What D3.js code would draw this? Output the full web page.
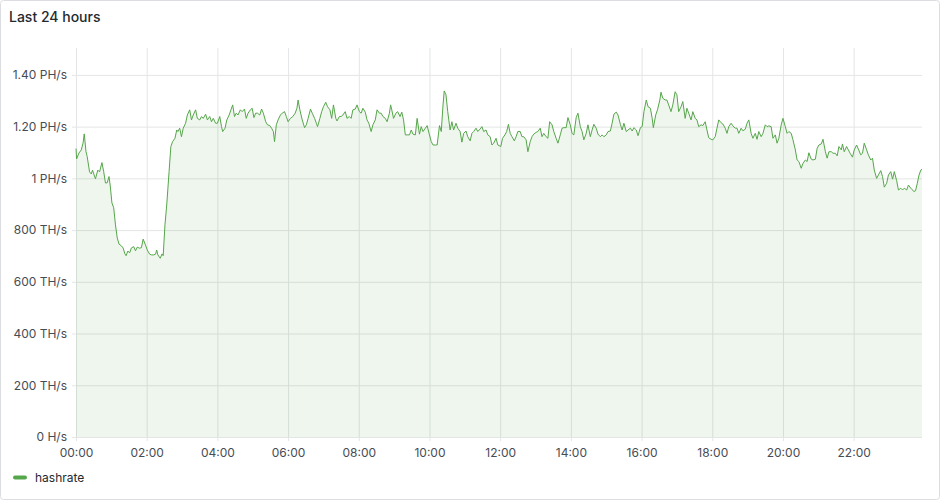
<!DOCTYPE html>
<html><head><meta charset="utf-8">
<script src="https://cdn.jsdelivr.net/npm/d3@7"></script>
<style>
html,body{margin:0;padding:0;background:#fff;}
svg{display:block;font-family:Inter,"Open Sans",sans-serif;}
</style></head><body>
<svg id="chart" width="940" height="500"></svg>
<script>
const title = "Last 24 hours";
const seriesName = "hashrate";
const xTickMinutes = [0,120,240,360,480,600,720,840,960,1080,1200,1320];
const xTickLabels = ["00:00","02:00","04:00","06:00","08:00","10:00","12:00","14:00","16:00","18:00","20:00","22:00"];
const yTicksTH = [0,200,400,600,800,1000,1200,1400];
const yTickLabels = ["0 H/s","200 TH/s","400 TH/s","600 TH/s","800 TH/s","1 PH/s","1.20 PH/s","1.40 PH/s"];
const xDomainMinutes = [0,1436];
const yDomainTH = [0,1504];

// minutes since 00:00
const minutes = [
0,1,5,9,12,14,17,19,23,26,
28,33,37,40,44,47,50,53,56,58,
61,64,67,70,73,77,80,83,85,88,
91,94,98,101,104,108,111,114,118,121,
125,128,132,135,137,139,143,146,148,151,
154,158,161,164,168,171,173,176,179,182,
186,189,193,196,199,203,206,210,213,216,
220,223,227,230,233,237,240,244,247,249,
253,256,260,263,266,269,272,275,279,282,
286,289,292,296,299,302,305,308,312,315,
318,322,325,329,332,335,337,340,343,347,
350,354,
357,360,364,368,372,375,377,380,384,388,
391,394,398,401,405,408,410,414,417,420,
424,427,431,434,437,441,443,447,450,453,
457,460,464,467,470,474,477,481,484,487,
491,494,497,501,504,508,511,515,518,521,
525,528,532,534,536,539,543,546,550,553,
556,559,562,566,569,572,576,579,583,586,
589,593,596,600,603,606,610,613,617,620,
623,625,628,631,635,638,641,645,648,652,
655,658,662,665,669,672,675,679,682,686,
689,692,696,699,703,706,709,713,716,
721,724,728,731,734,737,740,744,747,750,
754,757,760,764,767,771,774,777,781,784,
788,791,794,798,801,804,808,811,815,818,
822,825,828,832,835,839,842,845,849,852,
856,859,862,866,869,873,876,879,883,886,
890,893,896,900,903,907,910,913,917,920,
924,927,930,934,937,941,944,947,951,954,
958,961,964,968,971,975,978,980,984,987,
991,993,996,1000,1003,1006,1010,1013,1017,1020,
1023,1027,1030,1034,1037,1040,1044,1047,1051,1054,
1057,1061,1064,1068,1071,1074,
1078,1081,1085,1088,1091,1095,1098,1102,1105,1108,
1112,1115,1119,1122,1125,1129,1132,1136,1139,1142,
1146,1149,1153,1156,1159,1163,1166,1170,1173,1176,
1180,1183,1187,1190,1193,1197,1200,1204,1207,1210,
1214,1217,1221,1224,1227,1231,1234,1238,1241,1244,
1248,1251,1255,1258,1261,1265,1268,1272,1275,1278,
1282,1285,1289,1292,1295,1299,1301,1304,1308,1311,
1314,1318,1321,1325,1328,1332,1335,1338,1342,1345,
1349,1352,1355,1359,1362,1366,1369,1372,1376,1379,
1383,1386,1389,1393,1396,1400,1403,1406,1410,1413,
1417,1420,1422,1425,1428,1431,1434,1436
];
// hashrate in TH/s
const hashrateTH = [
1115,1075,1098,1110,1137,1172,1103,1084,1025,1017,
1032,998,1032,1025,1061,1026,982,983,1007,974,
905,886,820,770,746,739,731,708,701,719,
712,731,736,720,734,730,732,765,742,723,
707,704,704,707,723,704,691,708,701,820,
897,1026,1123,1142,1155,1187,1181,1194,1161,1194,
1213,1245,1265,1226,1245,1265,1232,1226,1239,1232,
1248,1226,1239,1219,1232,1213,1213,1239,1200,1181,
1194,1226,1245,1265,1284,1239,1252,1245,1265,1258,
1268,1232,1252,1265,1271,1235,1252,1252,1245,1268,
1252,1219,1207,1204,1194,1181,1142,1207,1226,1245,
1252,1258,
1239,1219,1232,1239,1252,1271,1303,1265,1226,1196,
1207,1232,1268,1252,1232,1213,1200,1232,1258,1277,
1294,1277,1265,1232,1284,1232,1222,1239,1239,1245,
1258,1232,1239,1232,1265,1268,1284,1258,1252,1271,
1256,1226,1213,1181,1207,1226,1265,1252,1252,1239,
1232,1219,1252,1284,1265,1232,1252,1258,1239,1256,
1226,1168,1168,1168,1187,1171,1168,1232,1171,1200,
1181,1194,1204,1168,1142,1129,1129,1129,1204,1181,
1284,1338,1323,1258,1187,1219,1187,1213,1194,1181,
1140,1174,1183,1161,1145,1174,1181,1194,1181,1191,
1200,1181,1187,1168,1161,1129,1136,1155,1129,
1123,1155,1168,1181,1209,1174,1161,1145,1161,1181,
1181,1161,1161,1149,1103,1142,1161,1171,1178,1181,
1194,1161,1174,1161,1155,1219,1207,1181,1155,1136,
1168,1194,1196,1196,1235,1207,1174,1168,1235,1252,
1200,1181,1149,1174,1207,1161,1187,1209,1194,1171,
1161,1168,1161,1168,1181,1183,1213,1248,1256,1245,
1209,1187,1213,1181,1187,1194,1183,1196,1187,1165,
1196,1200,1258,1303,1277,1271,1232,1196,1245,1265,
1303,1333,1310,1303,1303,1284,1258,1284,1335,1323,
1258,1277,1297,1232,1271,1252,1226,1258,1232,1226,
1200,1207,1204,1219,1187,1157,
1151,1149,1161,1194,1226,1215,1210,1194,1174,1200,
1213,1203,1194,1194,1174,1194,1184,1190,1213,1226,
1174,1155,1174,1151,1181,1161,1174,1207,1200,1203,
1200,1155,1168,1136,1155,1207,1232,1200,1174,1181,
1174,1149,1110,1071,1065,1039,1058,1071,1065,1099,
1074,1071,1074,1116,1129,1133,1151,1103,1078,1103,
1103,1097,1097,1087,1123,1110,1133,1103,1123,1110,
1097,1082,1110,1129,1113,1091,1097,1136,1110,1091,
1071,1078,1032,1000,1013,1030,1007,966,981,1013,
1026,997,1026,991,955,962,955,962,955,974,
962,955,949,952,981,1013,1032,1035
];

const W = 940, H = 500;
const plot = {left: 76, right: 922, top: 48, bottom: 437};
const lineColor = "#56a64b";
const gridColor = "#e4e5e6";
const textColor = "#464c54";

const n = Math.min(minutes.length, hashrateTH.length);
const data = d3.range(n).map(i => ({t: minutes[i], v: hashrateTH[i]}));

const svg = d3.select("#chart");
svg.append("rect").attr("x",0.5).attr("y",0.5).attr("width",W-1).attr("height",H-1)
  .attr("rx",3).attr("fill","#fff").attr("stroke","#dcdde0");

svg.append("text").attr("x",9).attr("y",22).text(title)
  .attr("font-size",14).attr("font-weight",500).attr("fill","#24292e");

const x = d3.scaleLinear().domain(xDomainMinutes).range([plot.left, plot.right]);
const y = d3.scaleLinear().domain(yDomainTH).range([plot.bottom, plot.top]);

// grid
const gy = svg.append("g").attr("transform",`translate(${plot.left},0)`)
  .call(d3.axisLeft(y).tickValues(yTicksTH).tickSize(-(plot.right-plot.left)).tickFormat(""));
gy.select(".domain").remove();
gy.selectAll("line").attr("stroke",gridColor);
const gx = svg.append("g").attr("transform",`translate(0,${plot.bottom})`)
  .call(d3.axisBottom(x).tickValues(xTickMinutes).tickSize(-(plot.bottom-plot.top)).tickFormat(""));
gx.select(".domain").remove();
gx.selectAll("line").attr("stroke",gridColor);

// area + line
svg.append("path").datum(data)
  .attr("d", d3.area().x(d=>x(d.t)).y0(y(0)).y1(d=>y(d.v)))
  .attr("fill", lineColor).attr("fill-opacity", 0.1);
svg.append("path").datum(data)
  .attr("d", d3.line().x(d=>x(d.t)).y(d=>y(d.v)))
  .attr("fill","none").attr("stroke",lineColor).attr("stroke-width",1)
  .attr("stroke-linejoin","round");

// axes with labels
const ay = svg.append("g").attr("transform",`translate(${plot.left},0)`)
  .call(d3.axisLeft(y).tickValues(yTicksTH).tickSize(4).tickPadding(5)
    .tickFormat((d,i)=>yTickLabels[i]));
ay.select(".domain").remove();
ay.selectAll("line").attr("stroke",gridColor);
ay.selectAll("text").attr("font-family","Inter").attr("font-size",12).attr("fill",textColor);

const ax = svg.append("g").attr("transform",`translate(0,${plot.bottom})`)
  .call(d3.axisBottom(x).tickValues(xTickMinutes).tickSize(4).tickPadding(7)
    .tickFormat((d,i)=>xTickLabels[i]));
ax.select(".domain").remove();
ax.selectAll("line").attr("stroke",gridColor);
ax.selectAll("text").attr("font-family","Inter").attr("font-size",12).attr("fill",textColor);

// legend
svg.append("rect").attr("x",13).attr("y",475.5).attr("width",14).attr("height",4)
  .attr("rx",2).attr("fill",lineColor);
svg.append("text").attr("x",35).attr("y",481.5).text(seriesName)
  .attr("font-size",12).attr("fill","#24292e");
</script>
</body></html>
